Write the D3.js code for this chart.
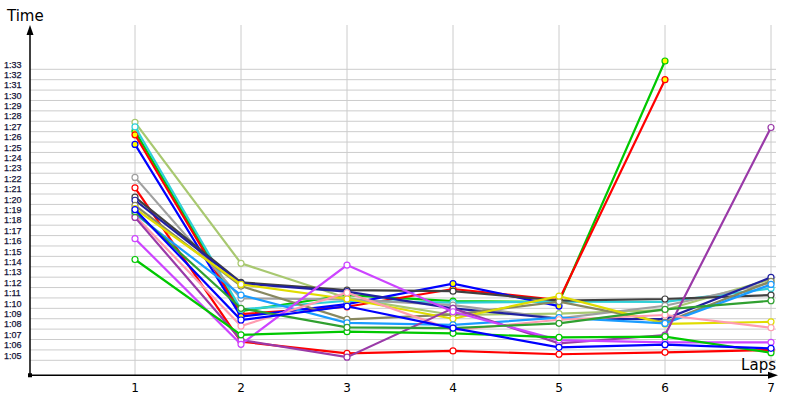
<!DOCTYPE html>
<meta charset="utf-8">
<head>
    <title>Lap times</title>
    <script type="text/javascript" src="https://cdn.jsdelivr.net/npm/d3@7"></script>
    <style>
        body { margin: 0; background: #fff; }
        text { font-family: "DejaVu Sans", sans-serif; }
    </style>
</head>
<body>
    <svg></svg>
    <script>
        // laps on the x axis
        var laps = [1, 2, 3, 4, 5, 6, 7];
        // y tick values in seconds (1:05 .. 1:33)
        var yTicks = d3.range(65, 94);

        // lap times in seconds, one array per driver
        var names = ["green_y", "red_y", "blue_y", "lightgreen", "cyan", "gray", "red", "black",
            "navy", "olive", "yellow", "dodger", "pink", "purple", "violet", "green", "darkgreen", "blue"];
        var colors = ["#00c800", "#ff0000", "#0000ff", "#a8c870", "#30d0d8", "#a0a0a0", "#ff0000", "#404040",
            "#2020a0", "#888860", "#e0dc00", "#1a9cff", "#ff9cb0", "#9a3aa8", "#cc44ff", "#00c800", "#30a030", "#0000ff"];
        var fills = ["#ffff00", "#ffff00", "#ffff00", "#fff", "#fff", "#fff", "#fff", "#fff",
            "#fff", "#fff", "#fff", "#fff", "#fff", "#fff", "#fff", "#fff", "#fff", "#fff"];
        var times = [
            [87.05, 69.74, 71.28, 70.7, 70.6, 93.8],
            [86.7, 69.45, 70.15, 71.86, 70.8, 92.0],
            [85.77, 69.2, 70.4, 72.37, 70.22],
            [87.9, 74.33, 71.0, 69.36, 69.5, 69.84, 72.79],
            [87.46, 69.9, 70.73, 70.55, 70.65, 70.63, 71.92],
            [82.6, 70.96, 70.85, 70.3, 69.04, 70.25, 72.46],
            [81.6, 66.8, 65.67, 65.9, 65.58, 65.77, 66.0],
            [80.7, 72.5, 71.76, 71.65, 70.75, 70.9, 71.28],
            [80.4, 72.4, 71.6, 70.0, 69.0, 68.97, 72.98],
            [79.9, 72.14, 68.94, 69.4, 70.65, 68.65, 72.6],
            [79.6, 72.3, 70.9, 69.0, 71.18, 68.5, 68.7],
            [79.1, 71.28, 68.6, 68.4, 69.1, 68.55, 72.3],
            [78.9, 68.3, 71.5, 67.9, 68.9, 69.36, 68.13],
            [78.75, 66.95, 65.3, 70.0, 66.63, 67.43, 87.4],
            [76.7, 66.54, 74.16, 69.67, 66.95, 66.73, 66.73],
            [74.7, 67.45, 67.75, 67.6, 67.2, 67.27, 65.73],
            [79.3, 70.0, 68.17, 68.1, 68.56, 69.9, 70.73],
            [79.5, 68.88, 70.2, 68.1, 66.25, 66.5, 66.15]
        ];

        var w = 800, h = 400;
        var svg = d3.select("svg").attr("width", w).attr("height", h);

        var x = d3.scaleLinear().domain([0, 7]).range([29, 771]);
        var y = d3.scaleLinear().domain([65, 93]).range([360.3, 69.3]);
        var x0 = 30, yAxis = y(63.56), yTop = 25, xRight = 776;

        function fmt(s) { return Math.floor(s / 60) + ":" + d3.format("02")(s % 60); }

        // grid
        svg.append("g").selectAll("line").data(yTicks).enter().append("line")
            .attr("x1", x0).attr("x2", xRight)
            .attr("y1", function (d) { return y(d); }).attr("y2", function (d) { return y(d); })
            .style("stroke", "#cccccc");
        svg.append("g").selectAll("line").data(laps).enter().append("line")
            .attr("x1", function (d) { return x(d); }).attr("x2", function (d) { return x(d); })
            .attr("y1", yTop).attr("y2", yAxis)
            .style("stroke", "#cccccc");

        // y labels
        svg.append("g").selectAll("text").data(yTicks).enter().append("text")
            .attr("x", 4).attr("y", function (d) { return y(d) - 1.8; })
            .style("font-family", "Liberation Sans, sans-serif")
            .style("font-size", "9px").style("fill", "#14143a")
            .style("stroke", "#14143a").style("stroke-width", 0.25)
            .text(fmt);

        // x labels
        svg.append("g").selectAll("text").data(laps).enter().append("text")
            .attr("x", function (d) { return x(d); }).attr("y", 392)
            .attr("text-anchor", "middle")
            .style("font-size", "12px").style("fill", "#000")
            .text(function (d) { return d; });

        // axes
        svg.append("line").attr("x1", x0).attr("x2", x0).attr("y1", yAxis).attr("y2", yTop + 6)
            .style("stroke", "#000").style("stroke-width", 1.5);
        svg.append("line").attr("x1", x0).attr("x2", xRight - 4).attr("y1", yAxis).attr("y2", yAxis)
            .style("stroke", "#000").style("stroke-width", 1.5);
        svg.append("path").attr("d", "M" + x0 + "," + yTop + "l-3.5,10l7,0z").style("fill", "#000");
        svg.append("path").attr("d", "M" + (xRight + 2) + "," + yAxis + "l-10,-3.5l0,7z").style("fill", "#000");
        svg.append("rect").attr("x", x0 - 2).attr("y", yAxis - 2).attr("width", 4).attr("height", 4).style("fill", "#000");

        svg.append("text").attr("x", 7).attr("y", 21).style("font-size", "15px").text("Time");
        svg.append("text").attr("x", 776).attr("y", 370).attr("text-anchor", "end").style("font-size", "15px").text("Laps");

        // series
        var line = d3.line()
            .x(function (d, i) { return x(laps[i]); })
            .y(function (d) { return y(d); });

        var series = svg.append("g").selectAll("g").data(times).enter().append("g");
        series.append("path")
            .attr("d", line)
            .style("fill", "none")
            .style("stroke", function (d, i) { return colors[i]; })
            .style("stroke-width", 2.2);
        series.each(function (d, i) {
            d3.select(this).selectAll("circle").data(d).enter().append("circle")
                .attr("cx", function (v, j) { return x(laps[j]); })
                .attr("cy", function (v) { return y(v); })
                .attr("r", 3)
                .style("fill", fills[i])
                .style("stroke", colors[i])
                .style("stroke-width", 1.2);
        });
    </script>
</body>
</html>
